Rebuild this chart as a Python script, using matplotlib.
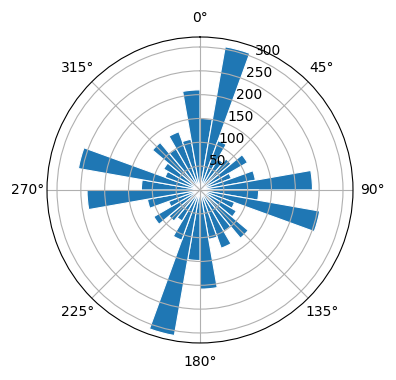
import numpy as np
import matplotlib
matplotlib.use("Agg")
import matplotlib.pyplot as plt

# bin start angles in degrees (clockwise from north), 10-degree bins
bin_starts_deg = list(range(0, 360, 10))
counts = [150, 305, 110, 75, 85, 115, 70, 118, 236,
          123, 255, 77, 88, 132, 100, 130, 105, 208,
          148, 310, 112, 75, 85, 112, 70, 112, 237,
          123, 259, 78, 88, 130, 100, 130, 108, 210]

fig = plt.figure(figsize=(3.96, 3.80), dpi=100)
ax = fig.add_axes([0.1187, 0.0974, 0.7727, 0.8053], projection="polar")
ax.set_theta_zero_location("N")
ax.set_theta_direction(-1)
theta = np.deg2rad(bin_starts_deg)
width = np.deg2rad(10)
ax.bar(theta, counts, width=width, align="edge", color="#1f77b4",
       edgecolor="white", linewidth=0.8)
ax.set_ylim(0, 321)
ax.set_yticks([50, 100, 150, 200, 250, 300])
fig.savefig("out.png", dpi=100)
